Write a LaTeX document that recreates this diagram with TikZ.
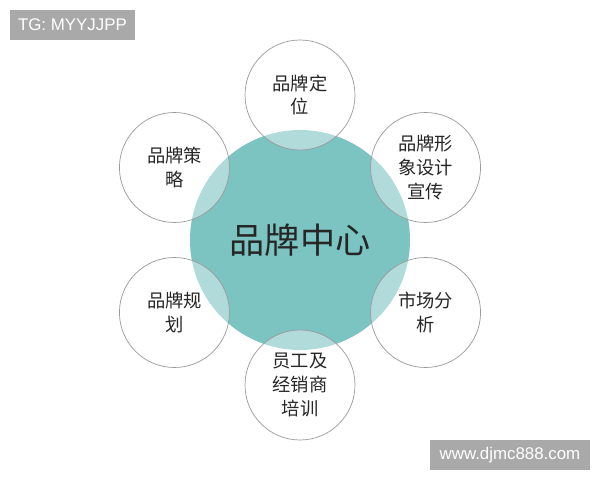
\documentclass[tikz,border=0pt]{standalone}
\usepackage{fontspec}
\usepackage{tikz}
\usetikzlibrary{calc}
\setsansfont{Liberation Sans}
\newfontfamily\cjk{Noto Sans CJK SC}
\definecolor{hubteal}{HTML}{7CC4C2}
\definecolor{ringgray}{HTML}{9A9A9A}
\definecolor{tagbox}{HTML}{A9A9A9}

\begin{document}
\begin{tikzpicture}[
	hub/.style={circle, fill=hubteal, minimum size=5.5cm, inner sep=0pt, text=black!85,
		font=\cjk\fontsize{25}{30}\selectfont},
	spoke/.style={circle, draw=ringgray, line width=0.5pt, fill=white, fill opacity=0.4,
		text opacity=1, minimum size=2.75cm, inner sep=0pt, align=center, text=black!85,
		font=\cjk\fontsize{13}{17}\selectfont},
	tag/.style={fill=tagbox, text=white, minimum height=0.75cm, inner sep=0pt,
		font=\sffamily\fontsize{12}{14}\selectfont}]
	\useasboundingbox (0,0) rectangle (15,12);
	\fill[white] (0,0) rectangle (15,12);
	\node[hub] (hub) at (7.5,6) {品牌中心};
	\node[spoke] (dingwei) at ($(hub)+(90:3.625)$) {品牌定\\位};
	\node[spoke] (xingxiang) at ($(hub)+(30:3.625)$) {品牌形\\象设计\\宣传};
	\node[spoke] (shichang) at ($(hub)+(-30:3.625)$) {市场分\\析};
	\node[spoke] (peixun) at ($(hub)+(-90:3.625)$) {员工及\\经销商\\培训};
	\node[spoke] (guihua) at ($(hub)+(210:3.625)$) {品牌规\\划};
	\node[spoke] (celve) at ($(hub)+(150:3.625)$) {品牌策\\略};
	\node[tag, minimum width=3.125cm] (tg) at (1.81,11.375) {TG: MYYJJPP};
	\node[tag, minimum width=4cm] (site) at (12.75,0.625) {www.djmc888.com};
\end{tikzpicture}
\end{document}
